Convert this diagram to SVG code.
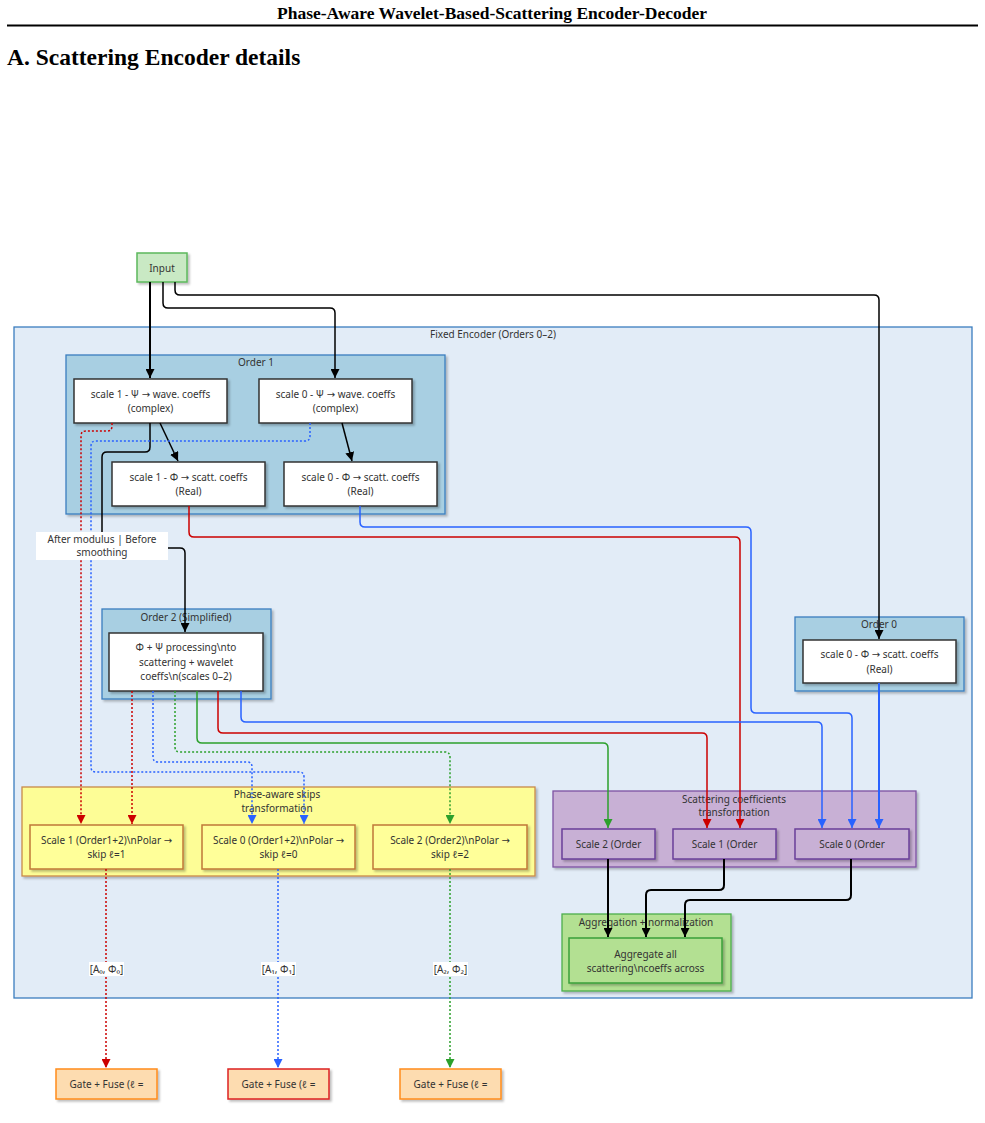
<svg xmlns="http://www.w3.org/2000/svg" width="985" height="1123" viewBox="0 0 985 1123">
<style>
.t{font-family:"Noto Sans","DejaVu Sans",sans-serif;font-size:10px;fill:#333;text-anchor:middle;dominant-baseline:central}
.hd{font-family:"Liberation Serif",serif;font-weight:bold;fill:#000}
.wn{fill:#fff;stroke:#333;stroke-width:1.5}
.ord{fill:#a8cfe2;stroke:#3a7ebf;stroke-width:1.3}
.c{fill:none;stroke-width:1.5}
.k{stroke:#000}.r{stroke:#cc0000}.b{stroke:#2962ff}.g{stroke:#2ca02c}
.d{stroke-dasharray:2 2}
.th{stroke-width:2}
</style>
<defs>
<filter id="sh" x="-10%" y="-10%" width="130%" height="140%"><feDropShadow dx="2" dy="2" stdDeviation="1" flood-color="#000" flood-opacity="0.25"/></filter>
<marker id="ak" viewBox="0 0 10 10" refX="10" refY="5" markerWidth="9" markerHeight="9" markerUnits="userSpaceOnUse" orient="auto"><path d="M0,0L10,5L0,10z" fill="#000"/></marker>
<marker id="ar" viewBox="0 0 10 10" refX="10" refY="5" markerWidth="9" markerHeight="9" markerUnits="userSpaceOnUse" orient="auto"><path d="M0,0L10,5L0,10z" fill="#cc0000"/></marker>
<marker id="ab" viewBox="0 0 10 10" refX="10" refY="5" markerWidth="9" markerHeight="9" markerUnits="userSpaceOnUse" orient="auto"><path d="M0,0L10,5L0,10z" fill="#2962ff"/></marker>
<marker id="ag" viewBox="0 0 10 10" refX="10" refY="5" markerWidth="9" markerHeight="9" markerUnits="userSpaceOnUse" orient="auto"><path d="M0,0L10,5L0,10z" fill="#2ca02c"/></marker>
</defs>
<rect width="985" height="1123" fill="#fff"/>
<text class="hd" x="492" y="19" font-size="17.5" text-anchor="middle">Phase-Aware Wavelet-Based-Scattering Encoder-Decoder</text>
<line x1="7" y1="25.5" x2="978" y2="25.5" stroke="#000" stroke-width="2"/>
<text class="hd" x="7" y="65" font-size="23.5">A. Scattering Encoder details</text>

<g id="fixed-encoder">
<rect x="14" y="327" width="958" height="671" fill="#e2ecf7" stroke="#3b7dbf" stroke-width="1.3"/>
<text class="t" x="493" y="334">Fixed Encoder (Orders 0–2)</text>
</g>
<g id="order1">
<rect class="ord" x="66" y="355" width="379" height="159" filter="url(#sh)"/>
<text class="t" x="256" y="362">Order 1</text>
</g>
<g id="order2">
<rect class="ord" x="102" y="609" width="169" height="90" filter="url(#sh)"/>
<text class="t" x="186" y="617">Order 2 (Simplified)</text>
</g>
<g id="order0">
<rect class="ord" x="795" y="617" width="169" height="74" filter="url(#sh)"/>
<text class="t" x="879" y="624">Order 0</text>
</g>
<g id="skips">
<rect x="22" y="787" width="513" height="89" fill="#fdfd96" stroke="#c98a4a" stroke-width="1.3" filter="url(#sh)"/>
<text class="t" x="277" y="794">Phase-aware skips</text>
<text class="t" x="277" y="808">transformation</text>
</g>
<g id="scatt-transform">
<rect x="553" y="791" width="363" height="76" fill="#c8b0d5" stroke="#7d52a3" stroke-width="1.3" filter="url(#sh)"/>
<text class="t" x="734" y="799">Scattering coefficients</text>
<text class="t" x="734" y="812">transformation</text>
</g>
<g id="aggregation">
<rect x="562" y="914" width="169" height="77" fill="#b3e092" stroke="#4cae4c" stroke-width="1.3" filter="url(#sh)"/>
<text class="t" x="646" y="922">Aggregation + normalization</text>
</g>

<g id="input">
<rect x="137" y="253" width="50" height="29" fill="#c9e9c4" stroke="#5cb85c" stroke-width="1.5" filter="url(#sh)"/>
<text class="t" x="162" y="268">Input</text>
</g>
<g id="s1psi">
<rect class="wn" x="74" y="379" width="153" height="44" filter="url(#sh)"/>
<text class="t" x="150.5" y="394">scale 1 - Ψ → wave. coeffs</text>
<text class="t" x="150.5" y="408">(complex)</text>
</g>
<g id="s0psi">
<rect class="wn" x="259" y="379" width="153" height="44" filter="url(#sh)"/>
<text class="t" x="335.5" y="394">scale 0 - Ψ → wave. coeffs</text>
<text class="t" x="335.5" y="408">(complex)</text>
</g>
<g id="s1phi">
<rect class="wn" x="112" y="462" width="153" height="44" filter="url(#sh)"/>
<text class="t" x="188.5" y="477">scale 1 - Φ → scatt. coeffs</text>
<text class="t" x="188.5" y="491">(Real)</text>
</g>
<g id="s0phi">
<rect class="wn" x="284" y="462" width="153" height="44" filter="url(#sh)"/>
<text class="t" x="360.5" y="477">scale 0 - Φ → scatt. coeffs</text>
<text class="t" x="360.5" y="491">(Real)</text>
</g>
<g id="o2node">
<rect class="wn" x="109" y="633" width="154" height="58" filter="url(#sh)"/>
<text class="t" x="186" y="647">Φ + Ψ processing\nto</text>
<text class="t" x="186" y="662">scattering + wavelet</text>
<text class="t" x="186" y="676">coeffs\n(scales 0–2)</text>
</g>
<g id="o0node">
<rect class="wn" x="803" y="640" width="153" height="43" filter="url(#sh)"/>
<text class="t" x="879.5" y="654">scale 0 - Φ → scatt. coeffs</text>
<text class="t" x="879.5" y="669">(Real)</text>
</g>
<g id="skip1">
<rect x="30" y="825" width="153" height="44" fill="#ffff99" stroke="#c07838" stroke-width="1.5" filter="url(#sh)"/>
<text class="t" x="106.5" y="840">Scale 1 (Order1+2)\nPolar →</text>
<text class="t" x="106.5" y="854">skip ℓ=1</text>
</g>
<g id="skip0">
<rect x="202" y="825" width="153" height="44" fill="#ffff99" stroke="#c07838" stroke-width="1.5" filter="url(#sh)"/>
<text class="t" x="278.5" y="840">Scale 0 (Order1+2)\nPolar →</text>
<text class="t" x="278.5" y="854">skip ℓ=0</text>
</g>
<g id="skip2">
<rect x="373" y="825" width="154" height="44" fill="#ffff99" stroke="#c07838" stroke-width="1.5" filter="url(#sh)"/>
<text class="t" x="450" y="840">Scale 2 (Order2)\nPolar →</text>
<text class="t" x="450" y="854">skip ℓ=2</text>
</g>
<g id="sc2">
<rect x="562" y="829" width="93" height="30" fill="#c8b0d5" stroke="#6a3f99" stroke-width="1.5" filter="url(#sh)"/>
<text class="t" x="608.5" y="844">Scale 2 (Order</text>
</g>
<g id="sc1">
<rect x="673" y="829" width="103" height="30" fill="#c8b0d5" stroke="#6a3f99" stroke-width="1.5" filter="url(#sh)"/>
<text class="t" x="724.5" y="844">Scale 1 (Order</text>
</g>
<g id="sc0">
<rect x="795" y="829" width="114" height="30" fill="#c8b0d5" stroke="#6a3f99" stroke-width="1.5" filter="url(#sh)"/>
<text class="t" x="852" y="844">Scale 0 (Order</text>
</g>
<g id="aggnode">
<rect x="569" y="938" width="153" height="45" fill="#b3e092" stroke="#3aa03a" stroke-width="1.5" filter="url(#sh)"/>
<text class="t" x="645.5" y="954">Aggregate all</text>
<text class="t" x="645.5" y="968">scattering\ncoeffs across</text>
</g>
<g id="gate1">
<rect x="56" y="1069" width="101" height="30" fill="#fddcb0" stroke="#ff8c1a" stroke-width="1.5" filter="url(#sh)"/>
<text class="t" x="106.5" y="1084">Gate + Fuse (ℓ =</text>
</g>
<g id="gate0">
<rect x="228" y="1069" width="101" height="30" fill="#fddcb0" stroke="#d22" stroke-width="1.5" filter="url(#sh)"/>
<text class="t" x="278.5" y="1084">Gate + Fuse (ℓ =</text>
</g>
<g id="gate2">
<rect x="400" y="1069" width="101" height="30" fill="#fddcb0" stroke="#ff8c1a" stroke-width="1.5" filter="url(#sh)"/>
<text class="t" x="450.5" y="1084">Gate + Fuse (ℓ =</text>
</g>

<g id="connectors">
<path class="c k th" d="M150 282V378" marker-end="url(#ak)"/>
<path class="c k" d="M163 282V303Q163 308 168 308H330Q335 308 335 313V378" marker-end="url(#ak)"/>
<path class="c k" d="M175 282V290Q175 295 180 295H874Q879 295 879 300V639" marker-end="url(#ak)"/>
<path class="c k" d="M160 423L178 461" marker-end="url(#ak)"/>
<path class="c k" d="M342 423L352 461" marker-end="url(#ak)"/>
<path class="c k" d="M150 423V447Q150 452 145 452H107Q102 452 102 457V533"/>
<path class="c k" d="M167 548H180Q185 548 185 553V632" marker-end="url(#ak)"/>
<path class="c r d" d="M112 423V426Q112 431 107 431H86Q81 431 81 436V824" marker-end="url(#ar)"/>
<path class="c b d" d="M310 423V436Q310 441 305 441H96Q91 441 91 446V767Q91 772 96 772H299Q304 772 304 777V824" marker-end="url(#ab)"/>
<path class="c r" d="M189 506V532Q189 537 194 537H735Q740 537 740 542V828" marker-end="url(#ar)"/>
<path class="c b" d="M360 506V522Q360 527 365 527H746Q751 527 751 532V708Q751 713 756 713H847Q852 713 852 718V828" marker-end="url(#ab)"/>
<path class="c b th" d="M879 683V828" marker-end="url(#ab)"/>
<path class="c r d" d="M132 691V824" marker-end="url(#ar)"/>
<path class="c b d" d="M153 691V757Q153 762 158 762H247Q252 762 252 767V824" marker-end="url(#ab)"/>
<path class="c g d" d="M175 691V747Q175 752 180 752H445Q450 752 450 757V824" marker-end="url(#ag)"/>
<path class="c g" d="M197 691V738Q197 743 202 743H603Q608 743 608 748V828" marker-end="url(#ag)"/>
<path class="c r" d="M218 691V728Q218 733 223 733H702Q707 733 707 738V828" marker-end="url(#ar)"/>
<path class="c b" d="M241 691V717Q241 722 246 722H817Q822 722 822 727V828" marker-end="url(#ab)"/>
<path class="c r d" d="M106 869V1068" marker-end="url(#ar)"/>
<path class="c b d" d="M278 869V1068" marker-end="url(#ab)"/>
<path class="c g d" d="M450 869V1068" marker-end="url(#ag)"/>
<path class="c k th" d="M608 859V937" marker-end="url(#ak)"/>
<path class="c k th" d="M724 859V885Q724 890 719 890H651Q646 890 646 895V937" marker-end="url(#ak)"/>
<path class="c k th" d="M851 859V895Q851 900 846 900H690Q685 900 685 905V937" marker-end="url(#ak)"/>
</g>
<g id="edge-labels">
<rect x="36" y="532" width="132" height="28" fill="#fff"/>
<text class="t" x="102" y="539">After modulus | Before</text>
<text class="t" x="102" y="552">smoothing</text>
<rect x="89" y="962" width="35" height="14" fill="#fff"/>
<text class="t" x="106.5" y="969">[A₀, Φ₀]</text>
<rect x="261" y="962" width="35" height="14" fill="#fff"/>
<text class="t" x="278.5" y="969">[A₁, Φ₁]</text>
<rect x="433" y="962" width="35" height="14" fill="#fff"/>
<text class="t" x="450.5" y="969">[A₂, Φ₂]</text>
</g>
</svg>
